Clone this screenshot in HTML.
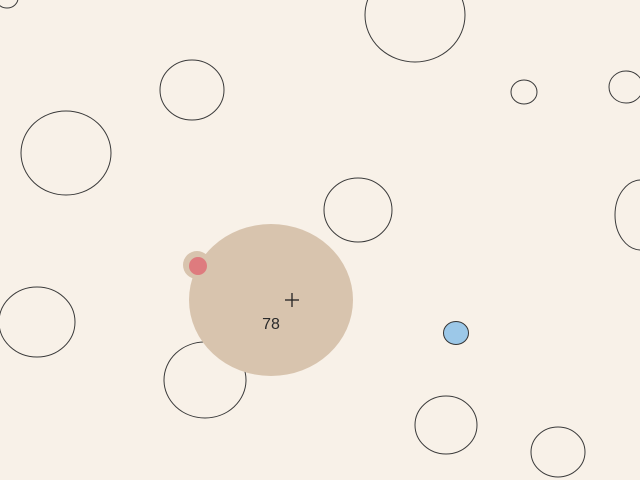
<!DOCTYPE html>
<html><head><meta charset="utf-8">
<style>
html,body{margin:0;padding:0;width:640px;height:480px;overflow:hidden;background:#f8f1e8;}
svg{display:block;}
text{font-family:"Liberation Sans",sans-serif;}
</style></head>
<body>
<svg id="scene" width="640" height="480" viewBox="0 0 640 480">
<rect x="0" y="0" width="640" height="480" fill="#f8f1e8"/>
<g id="cells"></g>
<g>
<ellipse cx="271" cy="300" rx="82" ry="76" fill="#d8c4ae"/>
<circle cx="197" cy="265" r="14" fill="#d8c4ae"/>
<circle cx="198" cy="266" r="9" fill="#de7b7e"/>
<text x="271" y="329" font-size="16" font-weight="500" fill="#2a2a2a" text-anchor="middle">78</text>
</g>
<g stroke="#222" stroke-width="1.3">
<line x1="285" y1="300" x2="299" y2="300"/><line x1="292" y1="293" x2="292" y2="307"/>
</g>
<ellipse cx="456" cy="333" rx="12.5" ry="11.5" fill="#9cc8e8" stroke="#333" stroke-width="1"/>
</svg>
<script>
const cellX=[7,415,192,524,626,66,358,641,37,205,446,558];
const cellY=[-2,15,90,92,87,153,210,215,322,380,425,452];
const cellRX=[11,50,32,13,17,45,34,26,38,41,31,27];
const cellRY=[10,47,30,12,16,42,32,35,35,38,29,25];
const g=document.getElementById('cells');
for(let i=0;i<cellX.length;i++){
const e=document.createElementNS('http://www.w3.org/2000/svg','ellipse');


e.setAttribute('cx',cellX[i]);e.setAttribute('cy',cellY[i]);
e.setAttribute('rx',cellRX[i]);e.setAttribute('ry',cellRY[i]);
e.setAttribute('fill','none');e.setAttribute('stroke','#3a3a3a');e.setAttribute('stroke-width','1');
g.appendChild(e);}
</script>
</body></html>
